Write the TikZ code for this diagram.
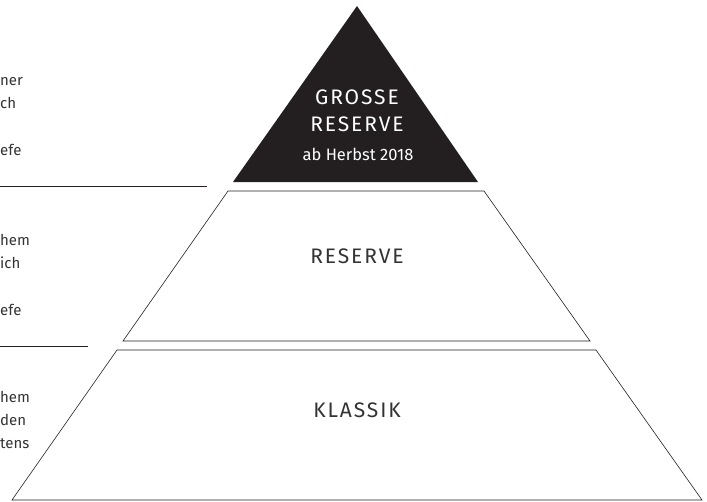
\documentclass[tikz,border=0pt]{standalone}
\usepackage{fontspec}
\setmainfont{Fira Sans}
\newfontfamily\tierfont[LetterSpace=9]{Fira Sans}
\definecolor{ink}{HTML}{231F20}
\definecolor{textgrey}{HTML}{333333}
\tikzset{
  tier/.style={draw=ink, line width=0.6pt},
  tierlabel/.style={font=\tierfont\fontsize{21}{26}\selectfont, text=textgrey, anchor=base, inner sep=0pt},
  sidetext/.style={font=\fontsize{15}{23}\selectfont, text=textgrey, anchor=base west, inner sep=0pt},
  divider/.style={draw=ink, line width=0.6pt}
}
\begin{document}
\begin{tikzpicture}[x=1pt, y=-1pt]
  \useasboundingbox (0,0) rectangle (707,501);

  % Spitze (black triangle)
  \fill[ink] (357,6) -- (478,182) -- (233,182) -- cycle;
  \node[tierlabel, text=white] (grosseA) at (357,104) {GROSSE};
  \node[tierlabel, text=white] (grosseB) at (357,131) {RESERVE};
  \node[tierlabel, text=white, font=\fontsize{16.5}{20}\selectfont] (grosseDate) at (358,160) {ab Herbst 2018};

  % Middle layer
  \draw[tier] (228,191) -- (484,191) -- (590,341) -- (123,341) -- cycle;
  \node[tierlabel] (reserve) at (357,263) {RESERVE};

  % Bottom layer
  \draw[tier] (117,350) -- (596,350) -- (702,500) -- (12,500) -- cycle;
  \node[tierlabel] (klassik) at (357,417) {KLASSIK};

  % Side texts (cut off at the left edge)
  \node[sidetext] (topA) at (0,85) {ner};
  \node[sidetext] (topB) at (0,108) {ch};
  \node[sidetext] (topC) at (0,155) {efe};

  \node[sidetext] (midA) at (0,245) {hem};
  \node[sidetext] (midB) at (0,268) {ich};
  \node[sidetext] (midC) at (0,315) {efe};

  \node[sidetext] (lowA) at (0,402) {hem};
  \node[sidetext] (lowB) at (0,425) {den};
  \node[sidetext] (lowC) at (0,448) {tens};

  % Dividers
  \draw[divider] (0,186) -- (207,186);
  \draw[divider] (0,346) -- (88,346);
\end{tikzpicture}
\end{document}
